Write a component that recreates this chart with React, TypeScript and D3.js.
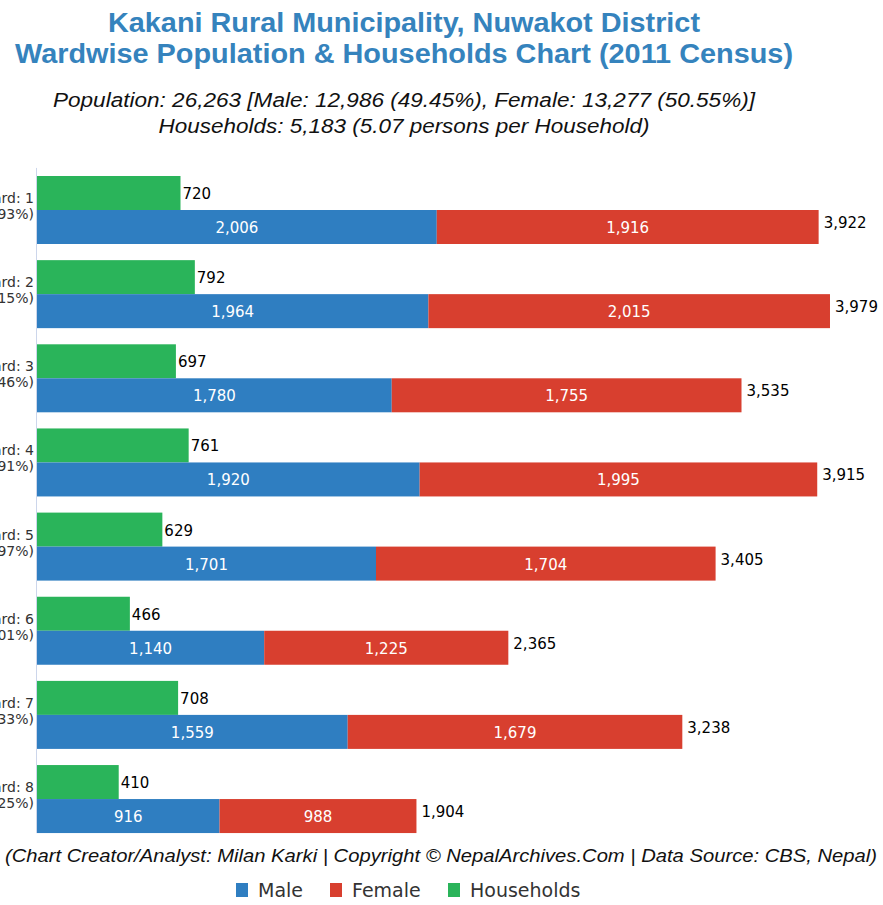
import React from "react";
import * as d3 from "d3";

const wards = ["Ward: 1", "Ward: 2", "Ward: 3", "Ward: 4", "Ward: 5", "Ward: 6", "Ward: 7", "Ward: 8"];
const shares = ["(14.93%)", "(15.15%)", "(13.46%)", "(14.91%)", "(12.97%)", "(9.01%)", "(12.33%)", "(7.25%)"];
const male = [2006, 1964, 1780, 1920, 1701, 1140, 1559, 916];
const female = [1916, 2015, 1755, 1995, 1704, 1225, 1679, 988];
const households = [720, 792, 697, 761, 629, 466, 708, 410];

const titleLines = [
  "Kakani Rural Municipality, Nuwakot District",
  "Wardwise Population & Households Chart (2011 Census)",
];
const subtitleLines = [
  "Population: 26,263 [Male: 12,986 (49.45%), Female: 13,277 (50.55%)]",
  "Households: 5,183 (5.07 persons per Household)",
];
const credit =
  "(Chart Creator/Analyst: Milan Karki | Copyright © NepalArchives.Com | Data Source: CBS, Nepal)";
const legendItems = ["Male", "Female", "Households"];

const C_MALE = "#2f7ec1";
const C_FEMALE = "#d83f2f";
const C_HH = "#2ab45a";
const C_TITLE = "#3583bd";

const W = 883;
const H = 905;
const FONT = "'Liberation Sans', Arial, sans-serif";
const FONT2 = "'DejaVu Sans', 'Liberation Sans', sans-serif";

export default function App() {
  const x = d3.scaleLinear().domain([0, 4245]).range([37, 883]);
  const step = 84.15;
  const group = 68;
  const pi = (step - group) / step;
  const y0 = 176 - (pi / 2) * step;
  const y = d3
    .scaleBand<string>()
    .domain(wards)
    .range([y0, y0 + step * wards.length])
    .paddingInner(pi)
    .paddingOuter(pi / 2);
  const sub = d3.scaleBand<string>().domain(["hh", "pop"]).range([0, y.bandwidth()]);
  const fmt = d3.format(",");

  const legendColors = [C_MALE, C_FEMALE, C_HH];
  const legendX = [236, 330, 448];
  const titleWidths = [592, 778];
  const subWidths = [702, 491];

  return (
    <svg
      width={W}
      height={H}
      style={{ position: "absolute", left: 0, top: 0, background: "#fff" }}
      fontFamily={FONT2}
    >
      <rect x={0} y={0} width={W} height={H} fill="#fff" />
      {titleLines.map((t, i) => (
        <text
          key={t}
          x={404}
          y={32 + i * 31}
          textAnchor="middle"
          fontSize={28}
          fontWeight="bold"
          fontFamily={FONT}
          fill={C_TITLE}
          textLength={titleWidths[i]}
          lengthAdjust="spacingAndGlyphs"
        >
          {t}
        </text>
      ))}
      {subtitleLines.map((t, i) => (
        <text
          key={t}
          x={404}
          y={107 + i * 26}
          textAnchor="middle"
          fontSize={19.5}
          fontStyle="italic"
          fontFamily={FONT}
          fill="#111"
          textLength={subWidths[i]}
          lengthAdjust="spacingAndGlyphs"
        >
          {t}
        </text>
      ))}

      <line
        x1={x(0) - 0.5}
        x2={x(0) - 0.5}
        y1={y0}
        y2={y0 + step * wards.length - 8}
        stroke="#ccd6eb"
      />

      {wards.map((w, i) => {
        const by = y(w)!;
        const hy = by + sub("hh")!;
        const py = by + sub("pop")!;
        const bh = sub.bandwidth();
        const total = male[i] + female[i];
        const cy = py + bh / 2;
        return (
          <g key={w}>
            <text x={34} y={by + group / 2 - 7} textAnchor="end" fontSize={14} fill="#333">
              {w}
            </text>
            <text x={34} y={by + group / 2 + 9} textAnchor="end" fontSize={14} fill="#333">
              {shares[i]}
            </text>
            <rect x={x(0)} y={hy} width={x(households[i]) - x(0)} height={bh} fill={C_HH} />
            <text x={x(households[i]) + 2} y={hy + bh / 2 + 6} fontSize={15} fill="#000">
              {fmt(households[i])}
            </text>
            <rect x={x(0)} y={py} width={x(male[i]) - x(0)} height={bh} fill={C_MALE} />
            <rect
              x={x(male[i])}
              y={py}
              width={x(total) - x(male[i])}
              height={bh}
              fill={C_FEMALE}
            />
            <text
              x={(x(0) + x(male[i])) / 2}
              y={cy + 6}
              textAnchor="middle"
              fontSize={15}
              fill="#fff"
            >
              {fmt(male[i])}
            </text>
            <text
              x={(x(male[i]) + x(total)) / 2}
              y={cy + 6}
              textAnchor="middle"
              fontSize={15}
              fill="#fff"
            >
              {fmt(female[i])}
            </text>
            <text x={x(total) + 5} y={cy + 1} fontSize={15} fill="#000">
              {fmt(total)}
            </text>
          </g>
        );
      })}

      <text
        x={441}
        y={862}
        textAnchor="middle"
        fontSize={18}
        fontStyle="italic"
        fontFamily={FONT}
        fill="#111"
        textLength={872}
        lengthAdjust="spacingAndGlyphs"
      >
        {credit}
      </text>

      {legendItems.map((l, i) => (
        <g key={l}>
          <rect x={legendX[i]} y={883} width={12} height={14} fill={legendColors[i]} />
          <text x={legendX[i] + 22} y={897} fontSize={19} fill="#333">
            {l}
          </text>
        </g>
      ))}
    </svg>
  );
}
